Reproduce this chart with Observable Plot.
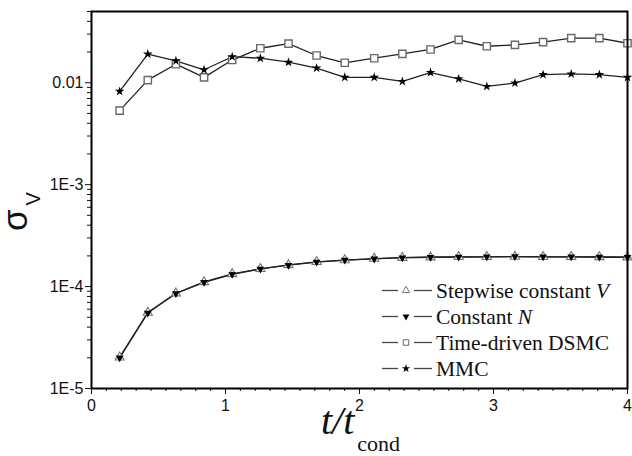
<!DOCTYPE html>
<html><head><meta charset="utf-8">
<script src="https://cdn.jsdelivr.net/npm/d3@7"></script>
<script src="https://cdn.jsdelivr.net/npm/@observablehq/plot@0.6"></script>
<style>body{margin:0;background:#fff}svg{display:block}</style>
</head><body><div id="chart"></div>
<script>
const times = [0.21,0.42,0.63,0.84,1.05,1.26,1.47,1.68,1.89,2.11,2.32,2.53,2.74,2.95,3.16,3.37,3.58,3.79,4.0];
const stepwiseV = [2.02e-5,5.56e-5,8.60e-5,1.11e-4,1.33e-4,1.49e-4,1.63e-4,1.75e-4,1.82e-4,1.88e-4,1.92e-4,1.94e-4,1.96e-4,1.96e-4,1.97e-4,1.96e-4,1.96e-4,1.95e-4,1.94e-4];
const constantN = [2.00e-5,5.52e-5,8.55e-5,1.10e-4,1.32e-4,1.49e-4,1.62e-4,1.74e-4,1.82e-4,1.87e-4,1.92e-4,1.94e-4,1.95e-4,1.96e-4,1.97e-4,1.96e-4,1.96e-4,1.95e-4,1.94e-4];
const dsmc = [0.00532,0.0106,0.0152,0.0113,0.0167,0.0218,0.0242,0.0185,0.0157,0.0174,0.0192,0.0212,0.0263,0.0228,0.0235,0.0250,0.0274,0.0274,0.0244];
const mmc = [0.00822,0.0191,0.0164,0.0134,0.0180,0.0174,0.0159,0.0139,0.0113,0.0113,0.0103,0.0126,0.0109,0.0092,0.00993,0.0120,0.0122,0.0120,0.0113];
const seriesNames = ["Stepwise constant ", "Constant ", "Time-driven DSMC", "MMC"];
const seriesItalic = ["V", "N", "", ""];
const yTickValues = [1e-5, 1e-4, 1e-3, 1e-2];
const yTickLabels = ["1E-5", "1E-4", "1E-3", "0.01"];
const xTickValues = [0, 1, 2, 3, 4];
const xTickLabels = ["0", "1", "2", "3", "4"];

const rows = (name, vals) => times.map((t, i) => ({series: name, t, v: vals[i]}));
const rV = rows("V", stepwiseV), rN = rows("N", constantN), rD = rows("D", dsmc), rM = rows("M", mmc);
const all = [...rD, ...rM, ...rV, ...rN];

const yMinor = [];
yTickValues.forEach(d => { for (let k = 2; k <= 9; k++) { const v = d * k; if (v <= 0.05 + 1e-12) yMinor.push(v); } });
const xMinor = d3.range(0, 37).filter(k => k % 9 !== 0).map(k => k / 9);

const plot = Plot.plot({
  width: 632, height: 456,
  marginLeft: 91, marginRight: 5, marginTop: 11, marginBottom: 68,
  style: {fontFamily: "'Liberation Sans', Arial, sans-serif", fontSize: "16px", color: "#111", background: "#fff"},
  x: {domain: [0, 4]},
  y: {type: "log", domain: [1e-5, 0.05]},
  marks: [
    Plot.axisX({ticks: xMinor, tickSize: 3, tickFormat: () => "", label: null, stroke: "#111"}),
    Plot.axisX({ticks: xTickValues, tickSize: 6, tickPadding: 5, label: null, fontSize: 16,
      tickFormat: d => xTickLabels[xTickValues.indexOf(d)], stroke: "#111"}),
    Plot.axisY({ticks: yMinor, tickSize: 4, tickFormat: () => "", label: null, stroke: "#111"}),
    Plot.axisY({ticks: yTickValues, tickSize: 6, tickPadding: 2, label: null, fontSize: 16,
      tickFormat: d => yTickLabels[yTickValues.indexOf(d)], stroke: "#111"}),
    Plot.line(all, {x: "t", y: "v", z: "series", stroke: "#222", strokeWidth: 1.3}),
    Plot.dot(rD, {x: "t", y: "v", symbol: "square", r: 4.1, stroke: "#6a6a6a", fill: "white", strokeWidth: 1.4}),
    Plot.dot(rM, {x: "t", y: "v", symbol: "star", r: 3, fill: "#000"}),
    Plot.dot(rV, {x: "t", y: "v", symbol: "triangle", r: 3.4, stroke: "#777", fill: "white", strokeWidth: 1.1}),
    Plot.dot(rN, {x: "t", y: "v", symbol: "triangle", r: 2.9, fill: "#000", rotate: 180}),
    Plot.frame({stroke: "#000", strokeWidth: 2})
  ]
});
document.getElementById("chart").appendChild(plot);

const svg = d3.select(plot);
// Y label (rotated)
const yg = svg.append("g").attr("transform", "translate(27,231) rotate(-90)");
const yl = yg.append("text").attr("x", 0).attr("y", 0).attr("text-anchor", "start")
  .attr("font-family", "'Liberation Sans', Arial, sans-serif").attr("font-size", 35).attr("fill", "#111");
yl.append("tspan").text("σ");
yl.append("tspan").attr("font-size", 20).attr("dx", 4).attr("dy", 13).text("V");
// X label
const xl = svg.append("text").attr("x", 321).attr("y", 434).attr("text-anchor", "start")
  .attr("font-family", "'Liberation Serif', 'Times New Roman', serif").attr("fill", "#111");
xl.append("tspan").attr("font-size", 40).attr("font-style", "italic").text("t/t");
xl.append("tspan").attr("font-size", 22).attr("dy", 17).attr("dx", 3).text("cond");

// Legend
const legSyms = [
  {type: d3.symbolTriangle, size: 22, fill: "white", stroke: "#777", rot: 0},
  {type: d3.symbolTriangle, size: 20, fill: "#000", stroke: "none", rot: 180},
  {type: d3.symbolSquare, size: 30, fill: "white", stroke: "#666", rot: 0},
  {type: d3.symbolStar, size: 22, fill: "#000", stroke: "none", rot: 0}
];
const lg = svg.append("g");
seriesNames.forEach((name, i) => {
  const cy = 290.5 + i * 26;
  lg.append("line").attr("x1", 382).attr("x2", 398).attr("y1", cy).attr("y2", cy).attr("stroke", "#444").attr("stroke-width", 1.3);
  lg.append("line").attr("x1", 414).attr("x2", 432).attr("y1", cy).attr("y2", cy).attr("stroke", "#444").attr("stroke-width", 1.3);
  const s = legSyms[i];
  lg.append("path").attr("d", d3.symbol().type(s.type).size(s.size)())
    .attr("transform", `translate(406,${cy}) rotate(${s.rot})`)
    .attr("fill", s.fill).attr("stroke", s.stroke).attr("stroke-width", 1);
  const t = lg.append("text").attr("x", 436).attr("y", cy + 7).attr("text-anchor", "start")
    .attr("font-family", "'Liberation Serif', 'Times New Roman', serif").attr("font-size", 21.5).attr("fill", "#111");
  t.append("tspan").text(name);
  if (seriesItalic[i]) t.append("tspan").attr("font-style", "italic").text(seriesItalic[i]);
});
</script></body></html>
